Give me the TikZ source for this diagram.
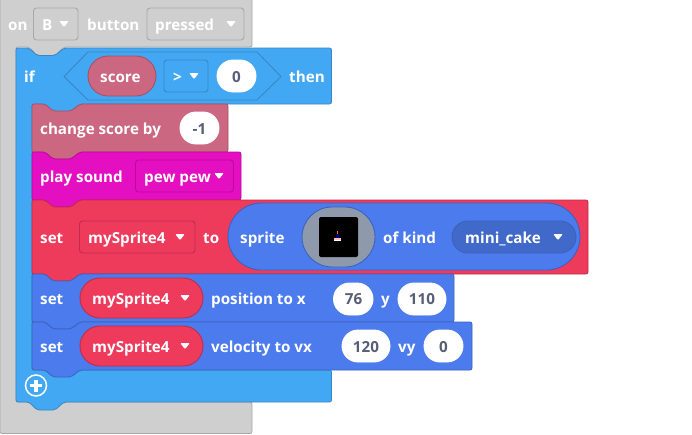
\documentclass[tikz,border=0pt]{standalone}
\usepackage{fontspec}
\setmainfont{Open Sans}
\usetikzlibrary{shapes.geometric}
\definecolor{grayB}{HTML}{CFCFCF}\definecolor{grayE}{HTML}{A8A8A8}
\definecolor{ifB}{HTML}{42A8F3}\definecolor{ifE}{HTML}{3A86C4}
\definecolor{pinkB}{HTML}{CC6781}\definecolor{pinkE}{HTML}{A35268}
\definecolor{magB}{HTML}{E30FC0}\definecolor{magE}{HTML}{B60C9A}
\definecolor{redB}{HTML}{EE3A5B}\definecolor{redE}{HTML}{BE2E49}
\definecolor{sprB}{HTML}{4B7BEC}\definecolor{sprE}{HTML}{3C62BD}
\definecolor{camG}{HTML}{8E9AAB}
\definecolor{numT}{HTML}{575E75}
\tikzset{
 x=1pt,y=-1pt,
 blockline/.style={line width=0.8pt,rounded corners=2pt},
 fieldline/.style={line width=0.9pt,rounded corners=3pt},
 pill/.style={line width=0.9pt},
 lab/.style={text=white,font=\fontsize{15.2}{15}\selectfont\bfseries,anchor=west,inner sep=0pt,text height=12pt,text depth=2pt},
 num/.style={text=numT,font=\fontsize{15.2}{15}\selectfont\bfseries,anchor=center,inner sep=0pt,text height=12pt,text depth=2pt},
}
\newcommand{\blk}[6]{\draw[blockline,fill=#5,draw=#6]
 (#1,#2)--({#1+13},#2)--({#1+21},{#2+7})--({#1+39},{#2+7})--({#1+48},#2)--(#3,#2)--(#3,#4)
 --({#1+48},#4)--({#1+39},{#4+7})--({#1+21},{#4+7})--({#1+13},#4)--(#1,#4)--cycle;}
\newcommand{\pillat}[6]{%
 \pgfmathsetmacro\pillr{(#4-#2)/2-0.02}
 \draw[pill,fill=#5,draw=#6,rounded corners=\pillr pt] (#1,#2) rectangle (#3,#4);}
\newcommand{\fld}[6]{\draw[fieldline,draw=#6,fill=#5] (#1,#2) rectangle (#3,#4);}
\newcommand{\tri}[2]{\fill[white,rounded corners=1pt] ({#1-4.8},{#2-3}) -- ({#1+4.8},{#2-3}) -- (#1,{#2+3.2}) -- cycle;}
\begin{document}
\begin{tikzpicture}
\useasboundingbox (0,0) rectangle (692,434);
% hat block
\draw[blockline,fill=grayB,draw=grayE] (0,-2)--(252,-2)--(252,47)--(64,47)--(55,55.5)--(37,55.5)--(29,47)--(16,47)--(16,402)--(252,402)--(252,433.5)--(0,433.5)--cycle;
\fld{33.5}{8}{78}{40}{grayB}{grayE}
\fld{147}{8}{244}{40}{grayB}{grayE}
\node[lab] (on) at (8,25) {on};
\node[lab] (b) at (42,25) {B};
\tri{64}{24}
\node[lab] (button) at (87,25) {button};
\node[lab] (pressed) at (155,25) {pressed};
\tri{231}{24}
% if block
\draw[blockline,fill=ifB,draw=ifE] (16,48)--(29,48)--(37,55.5)--(55,55.5)--(64,48)--(331.5,48)--(331.5,104)--(80,104)--(71,111.5)--(53,111.5)--(45,104)--(32,104)--(32,370)--(331.5,370)--(331.5,402)--(64,402)--(55,410)--(37,410)--(29,402)--(16,402)--cycle;
\node[lab] (if) at (24,77) {if};
\draw[line width=0.9pt,draw=ifE,fill=ifB,line join=round] (64,76.5)--(88,52)--(257,52)--(281,76.5)--(257,100)--(88,100)--cycle;
\pillat{88}{56}{156}{96}{pinkB}{pinkE}
\node[lab] (score) at (100,77) {score};
\fld{164}{60}{208}{92}{ifB}{ifE}
\node[lab] (gt) at (173,77.5) {>};
\tri{194}{76}
\pillat{217}{60}{256}{92}{white}{white}
\node[num] (zero) at (236.5,77) {0};
\node[lab] (then) at (289,77) {then};
% change score
\blk{32}{104}{228}{152}{pinkB}{pinkE}
\node[lab] (change) at (40,129) {change score by};
\pillat{180}{112}{219}{144}{white}{white}
\node[num] (minus) at (199.5,129) {-1};
% play sound
\blk{32}{152}{241}{200}{magB}{magE}
\node[lab] (play) at (40,177) {play sound};
\fld{135.5}{160}{233.5}{192}{magB}{magE}
\node[lab] (pew) at (144,177) {pew pew};
\tri{219}{176}
% set to
\blk{32}{200}{588}{274}{redB}{redE}
\node[lab] (set1) at (40,238) {set};
\fld{79.5}{221}{195}{253}{redB}{redE}
\node[lab] (my1) at (88,238) {mySprite4};
\tri{180}{237}
\node[lab] (to) at (203,238) {to};
\pillat{228}{203}{580}{270}{sprB}{sprE}
\node[lab] (sprite) at (240,238) {sprite};
\pillat{302}{207}{375}{267}{camG}{sprE}
\fill[black,rounded corners=2pt] (319,217) rectangle (358,257);
\fill[orange!90!red] (336.5,231) rectangle (338.3,233.5);
\fill[blue!50!black] (336,233.5) rectangle (338.8,237.5);
\fill[pink] (334,237.5) rectangle (341,239.5);
\fill[white] (334,239.5) rectangle (341,241);
\node[lab] (kind) at (383,238) {of kind};
\pillat{452}{221}{576}{253}{sprB!85!black}{sprE}
\node[lab] (cake) at (465,238) {mini\_cake};
\tri{558}{237}
% set position
\blk{32}{274}{454}{322}{sprB}{sprE}
\node[lab] (set2) at (40,299) {set};
\pillat{80}{278}{203}{318}{redB}{redE}
\node[lab] (my2) at (92,299) {mySprite4};
\tri{185}{298}
\node[lab] (pos) at (211,299) {position to x};
\pillat{333.5}{283}{373}{315}{white}{white}
\node[num] (x76) at (353.5,299) {76};
\node[lab] (y1) at (381,299) {y};
\pillat{398}{283}{446}{315}{white}{white}
\node[num] (y110) at (422,299) {110};
% set velocity
\blk{32}{322}{472}{370}{sprB}{sprE}
\node[lab] (set3) at (40,347) {set};
\pillat{80}{326}{203}{366}{redB}{redE}
\node[lab] (my3) at (92,347) {mySprite4};
\tri{185}{346}
\node[lab] (vel) at (211,347) {velocity to vx};
\pillat{342}{330}{390}{362}{white}{white}
\node[num] (v120) at (366,347) {120};
\node[lab] (vy) at (398,347) {vy};
\pillat{424}{330}{463}{362}{white}{white}
\node[num] (v0) at (443.5,347) {0};
% plus icon
\draw[white,line width=1.5pt] (36,385.5) circle[radius=10.5];
\draw[white,line width=3.2pt] (30,385.5)--(42,385.5) (36,379.5)--(36,391.5);
\end{tikzpicture}
\end{document}
